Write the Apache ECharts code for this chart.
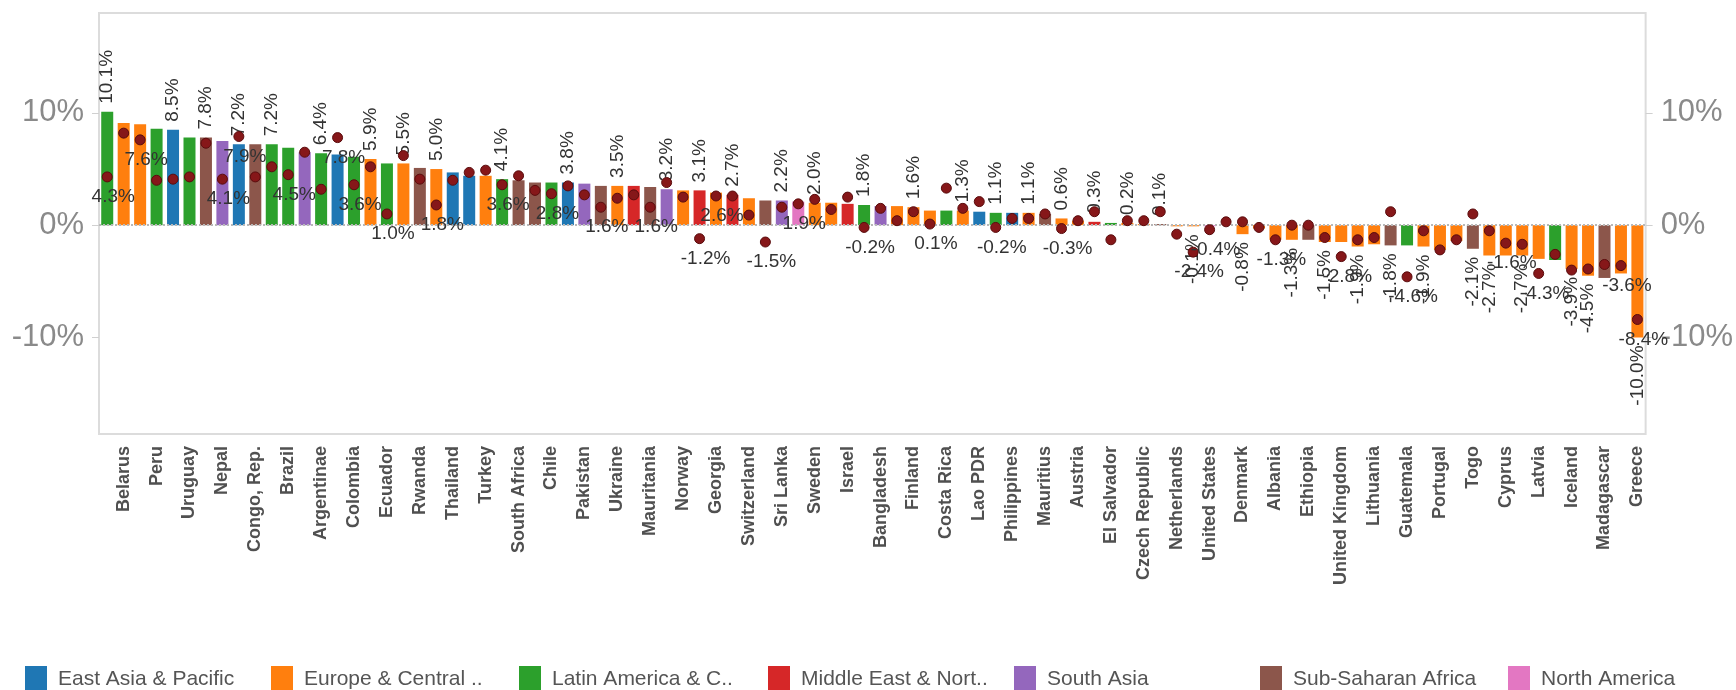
<!DOCTYPE html>
<html>
<head>
<meta charset="utf-8">
<script src="https://cdn.jsdelivr.net/npm/echarts@6/dist/echarts.min.js"></script>
<style>
html,body{margin:0;padding:0;background:#fff;}
#chart{width:1736px;height:690px;}
</style>
</head>
<body>
<div id="chart"></div>
<script>
// ---- data ----
const countries = ['', 'Belarus', '', 'Peru', '', 'Uruguay', '', 'Nepal', '', 'Congo, Rep.', '', 'Brazil', '', 'Argentinae', '', 'Colombia', '', 'Ecuador', '', 'Rwanda', '', 'Thailand', '', 'Turkey', '', 'South Africa', '', 'Chile', '', 'Pakistan', '', 'Ukraine', '', 'Mauritania', '', 'Norway', '', 'Georgia', '', 'Switzerland', '', 'Sri Lanka', '', 'Sweden', '', 'Israel', '', 'Bangladesh', '', 'Finland', '', 'Costa Rica', '', 'Lao PDR', '', 'Philippines', '', 'Mauritius', '', 'Austria', '', 'El Salvador', '', 'Czech Republic', '', 'Netherlands', '', 'United States', '', 'Denmark', '', 'Albania', '', 'Ethiopia', '', 'United Kingdom', '', 'Lithuania', '', 'Guatemala', '', 'Portugal', '', 'Togo', '', 'Cyprus', '', 'Latvia', '', 'Iceland', '', 'Madagascar', '', 'Greece'];

const regionOf = ['LAC','ECA','ECA','LAC','EAP','LAC','SSA','SAS','EAP','SSA',
  'LAC','LAC','SAS','LAC','EAP','LAC','ECA','LAC','ECA','SSA',
  'ECA','EAP','EAP','ECA','LAC','SSA','SSA','LAC','EAP','SAS',
  'SSA','ECA','MNA','SSA','SAS','ECA','MNA','ECA','MNA','ECA',
  'SSA','SAS','NAM','ECA','ECA','MNA','LAC','SAS','ECA','ECA',
  'ECA','LAC','ECA','EAP','LAC','EAP','ECA','SSA','ECA','ECA',
  'MNA','LAC','ECA','ECA','SSA','ECA','ECA','NAM','ECA','ECA',
  'ECA','ECA','ECA','SSA','ECA','ECA','ECA','ECA','SSA','LAC',
  'ECA','ECA','ECA','SSA','ECA','ECA','ECA','ECA','LAC','ECA',
  'ECA','SSA','ECA','ECA'];

const barValues = [10.1, 9.1, 9.0, 8.6, 8.5, 7.8, 7.8, 7.5, 7.2, 7.2,
  7.2, 6.9, 6.5, 6.4, 6.3, 6.1, 5.9, 5.5, 5.5, 5.1,
  5.0, 4.7, 4.4, 4.4, 4.1, 4.0, 3.8, 3.8, 3.8, 3.7,
  3.5, 3.5, 3.5, 3.4, 3.2, 3.1, 3.1, 2.9, 2.7, 2.4,
  2.2, 2.2, 2.1, 2.0, 2.0, 1.9, 1.8, 1.7, 1.7, 1.6,
  1.3, 1.3, 1.3, 1.2, 1.1, 1.1, 1.1, 1.0, 0.6, 0.4,
  0.3, 0.2, 0.2, 0.1, 0.1, -0.1, -0.1, -0.1, 0.0, -0.8,
  -0.3, -1.3, -1.3, -1.3, -1.5, -1.5, -1.9, -1.7, -1.8, -1.8,
  -1.9, -2.2, -1.4, -2.1, -2.7, -2.7, -2.7, -3.0, -3.1, -3.9,
  -4.5, -4.7, -4.3, -10.0];

const dotValues = [4.3, 8.2, 7.6, 4.0, 4.1, 4.3, 7.3, 4.1, 7.9, 4.3,
  5.2, 4.5, 6.5, 3.2, 7.8, 3.6, 5.2, 1.0, 6.2, 4.1,
  1.8, 4.0, 4.7, 4.9, 3.6, 4.4, 3.1, 2.8, 3.5, 2.7,
  1.6, 2.4, 2.7, 1.6, 3.8, 2.5, -1.2, 2.6, 2.6, 0.9,
  -1.5, 1.6, 1.9, 2.3, 1.4, 2.5, -0.2, 1.5, 0.4, 1.2,
  0.1, 3.3, 1.5, 2.1, -0.2, 0.6, 0.6, 1.0, -0.3, 0.4,
  1.2, -1.3, 0.4, 0.4, 1.2, -0.8, -2.4, -0.4, 0.3, 0.3,
  -0.2, -1.3, 0.0, 0.0, -1.1, -2.8, -1.3, -1.1, 1.2, -4.6,
  -0.5, -2.2, -1.3, 1.0, -0.5, -1.6, -1.7, -4.3, -2.6, -4.0,
  -3.9, -3.5, -3.6, -8.4];

// 1-based positions of marks whose value labels are visible
const barLabelAt = [1,5,7,9,11,14,17,19,21,25,29,32,35,37,39,42,44,47,50,53,55,57,59,61,63,65,67,70,73,75,77,79,81,84,85,87,90,91,94];
const dotLabelAt = [1,3,8,9,12,15,16,18,21,25,28,31,34,37,38,41,43,47,51,55,59,67,68,72,76,80,86,88,93,94];

const regionCodes = ['EAP','ECA','LAC','MNA','SAS','SSA','NAM'];
const regionNames = ['East Asia & Pacific','Europe & Central ..','Latin America & C..','Middle East & Nort..','South Asia','Sub-Saharan Africa','North America'];
const yTicks = [-10, 0, 10];

// ---- styles ----
const regionColors = ['#1f77b4','#ff7f0e','#2ca02c','#d62728','#9467bd','#8c564b','#e377c2'];
const legendLefts = [20, 266, 514, 763, 1009, 1255, 1503];
const FONT = 'Liberation Sans, Arial, Helvetica, sans-serif';
const fmt = v => v.toFixed(1) + '%';

const barSeries = regionCodes.map((code, r) => ({
  name: regionNames[r],
  type: 'bar',
  stack: 'all',
  barWidth: 12,
  itemStyle: { color: regionColors[r] },
  data: barValues.map((v, i) => {
    if (regionOf[i] !== code) return '-';
    const item = { value: v };
    if (barLabelAt.indexOf(i + 1) >= 0) {
      item.label = v >= 0 ? {
        show: true, position: 'top', rotate: 90, align: 'left', verticalAlign: 'middle', distance: 8,
        formatter: () => fmt(v), fontSize: 19, color: '#333', fontFamily: FONT
      } : {
        show: true, position: 'bottom', rotate: 90, align: 'right', verticalAlign: 'middle', distance: 8,
        formatter: () => fmt(v), fontSize: 19, color: '#333', fontFamily: FONT
      };
    }
    return item;
  })
}));

const dotSeries = {
  name: 'dots',
  type: 'scatter',
  z: 5,
  symbolSize: 10,
  itemStyle: { color: '#861719', borderColor: '#5a0c0d', borderWidth: 1, opacity: 1 },
  data: dotValues.map((v, i) => {
    const item = { value: [i, v] };
    if (dotLabelAt.indexOf(i + 1) >= 0) {
      item.label = { show: true, position: 'bottom', distance: 5, offset: [6, 0],
        formatter: () => fmt(v), fontSize: 19, color: '#333', fontFamily: FONT };
    }
    return item;
  }),
  markLine: {
    silent: true, symbol: 'none', label: { show: false },
    lineStyle: { type: 'dotted', color: '#b8b8b8', width: 2 },
    data: [{ yAxis: 0 }]
  }
};

const yAxisBase = (pos) => ({
  type: 'value',
  position: pos,
  min: -18.6,
  max: 18.9,
  axisLine: { show: false },
  splitLine: { show: false },
  axisTick: { show: true, customValues: yTicks, length: 7, lineStyle: { color: '#d0d0d0', width: 1 } },
  axisLabel: { customValues: yTicks, formatter: v => v + '%', fontSize: 31, color: '#8a8a8a', margin: 15, fontFamily: FONT }
});

const option = {
  animation: false,
  backgroundColor: '#fff',
  grid: { left: 99, right: 89, top: 13, bottom: 256, show: true, borderColor: '#dcdcdc', borderWidth: 2, containLabel: false },
  xAxis: {
    type: 'category',
    data: countries,
    axisLine: { show: false },
    axisTick: { show: false },
    axisLabel: { interval: 0, rotate: 90, fontSize: 18, fontWeight: 'bold', color: '#505050', margin: 12, fontFamily: FONT }
  },
  yAxis: [yAxisBase('left'), yAxisBase('right')],
  legend: regionNames.map((n, i) => ({
    data: [n], left: legendLefts[i], top: 661, orient: 'horizontal',
    icon: 'rect', itemWidth: 22, itemHeight: 26, itemGap: 0, selectedMode: false,
    textStyle: { fontSize: 21, color: '#555', fontFamily: FONT, padding: [0, 0, 0, 6] }
  })),
  series: barSeries.concat([dotSeries])
};

const chart = echarts.init(document.getElementById('chart'), null, { renderer: 'canvas' });
chart.setOption(option);
</script>
</body>
</html>
